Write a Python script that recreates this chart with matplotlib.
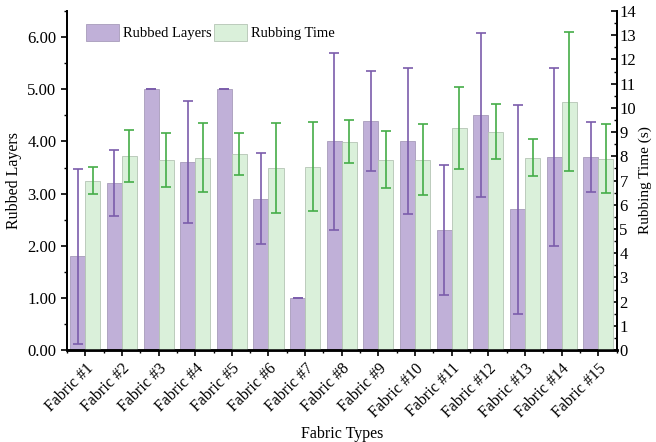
import numpy as np
import matplotlib.pyplot as plt
from matplotlib.ticker import MultipleLocator

plt.rcParams['font.family'] = ['Liberation Serif', 'DejaVu Serif']

# Data
fabrics = ['Fabric #%d' % i for i in range(1, 16)]
layers = [1.8, 3.2, 5.0, 3.6, 5.0, 2.9, 1.0, 4.0, 4.4, 4.0, 2.3, 4.5, 2.7, 3.7, 3.7]
layers_err = [1.68, 0.63, 0.0, 1.17, 0.0, 0.87, 0.0, 1.7, 0.96, 1.4, 1.25, 1.57, 2.0, 1.7, 0.67]
rub_time = [7.0, 8.0, 7.86, 7.94, 8.1, 7.53, 7.57, 8.61, 7.86, 7.86, 9.18, 9.02, 7.94, 10.26, 7.9]
rub_time_err = [0.55, 1.08, 1.12, 1.42, 0.87, 1.85, 1.83, 0.9, 1.17, 1.46, 1.69, 1.15, 0.76, 2.87, 1.43]

purple = '#c0b0d8'
green = '#daf0da'
purple_err = '#7b5cab'
green_err = '#45ad48'

x = np.arange(len(fabrics))
w = 0.41

fig, ax = plt.subplots(figsize=(6.56, 4.42), dpi=100)
fig.subplots_adjust(left=0.102, right=0.94, top=0.975, bottom=0.208)
ax2 = ax.twinx()

ax.bar(x - w / 2, layers, w, color=purple, edgecolor='#a89cba', linewidth=0.6,
       label='Rubbed Layers', zorder=2)
ax.errorbar(x - w / 2, layers, yerr=layers_err, fmt='none', ecolor=purple_err,
            elinewidth=1.2, capsize=3.5, capthick=1.2, zorder=3)
ax2.bar(x + w / 2, rub_time, w, color=green, edgecolor='#b4c4b4', linewidth=0.6,
        label='Rubbing Time', zorder=2)
ax2.errorbar(x + w / 2, rub_time, yerr=rub_time_err, fmt='none', ecolor=green_err,
             elinewidth=1.2, capsize=3.5, capthick=1.2, zorder=3)

ax.set_xlim(-0.5, len(fabrics) - 0.5)
ax.set_ylim(0, 6.5)
ax2.set_ylim(0, 14)

ax.set_xticks(x)
ax.set_xticklabels(fabrics, rotation=45, ha='right', rotation_mode='anchor', fontsize=11.5)
ax.xaxis.set_minor_locator(MultipleLocator(1, offset=0.5))
ax.yaxis.set_major_locator(MultipleLocator(1))
ax.yaxis.set_minor_locator(MultipleLocator(0.5))
ax.set_yticklabels(['%.2f' % v for v in ax.get_yticks()], fontsize=12)
ax2.yaxis.set_major_locator(MultipleLocator(1))
ax2.yaxis.set_minor_locator(MultipleLocator(0.5))
ax2.tick_params(axis='y', labelsize=12, pad=2)

ax.tick_params(axis='both', which='major', direction='out', length=4, width=1.2)
ax.tick_params(axis='both', which='minor', direction='out', length=2.5, width=1.0)
ax2.tick_params(axis='y', which='major', direction='in', length=4, width=1.2)
ax2.tick_params(axis='y', which='minor', direction='in', length=2.5, width=1.0)

for a in (ax, ax2):
    a.spines['top'].set_visible(False)
    a.spines['left'].set_linewidth(1.3)
    a.spines['right'].set_linewidth(1.3)
    a.spines['bottom'].set_linewidth(1.8)

ax.set_xlabel('Fabric Types', fontsize=11.5)
ax.set_ylabel('Rubbed Layers', fontsize=11.5)
ax2.set_ylabel('Rubbing Time (s)', fontsize=11, labelpad=2)

h1, l1 = ax.get_legend_handles_labels()
h2, l2 = ax2.get_legend_handles_labels()
ax2.legend(h1 + h2, l1 + l2, loc='upper left', ncol=2, frameon=False, fontsize=10.5,
           handlelength=2.3, handleheight=1.4, columnspacing=0.1, handletextpad=0.3,
           bbox_to_anchor=(0.01, 1.0))

fig.savefig('out.png')
